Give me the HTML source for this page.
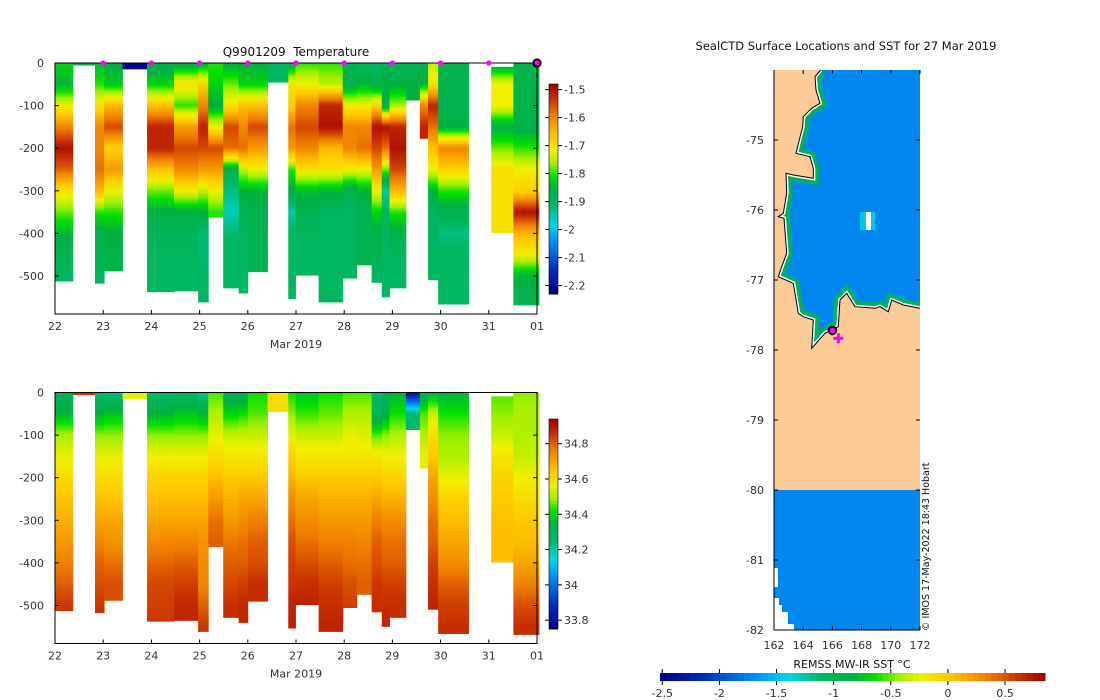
<!DOCTYPE html>
<html><head><meta charset="utf-8"><style>
html,body{margin:0;padding:0;background:#fff;}
svg{display:block;font-family:"DejaVu Sans","Liberation Sans",sans-serif;}
</style></head><body>
<svg id="root" width="1100" height="700" viewBox="0 0 1100 700" xmlns="http://www.w3.org/2000/svg">
<g id="tplot"></g>
<g id="splot"></g>
<g id="map"></g>
</svg>
<script>
// ---------- data ----------
const profStart=[22.0,22.37,22.83,23.02,23.4,23.91,24.47,24.97,25.18,25.49,25.81,26.0,26.41,26.84,26.99,27.47,27.97,28.26,28.57,28.78,28.94,29.28,29.57,29.74,29.95,31.05,31.51];
const profEnd=[22.37,22.83,23.02,23.4,23.91,24.47,24.97,25.18,25.49,25.81,26.0,26.41,26.84,26.99,27.47,27.97,28.26,28.57,28.78,28.94,29.28,29.57,29.74,29.95,30.58,31.51,32.04];
const profTop=[0,0,0,0,0,0,0,0,0,0,0,0,0,0,0,0,0,0,0,0,0,0,0,0,0,9,0];
const profDepth=[512,5,517,488,14,537,535,561,362,528,540,490,45,553,498,561,505,474,515,549,528,87,177,509,566,398,568];
// temperature at 0,50,100,... m
const tempProfiles=[
[-1.82,-1.85,-1.72,-1.6,-1.5,-1.57,-1.7,-1.78,-1.85,-1.88,-1.9],
[-1.86],
[-1.85,-1.8,-1.7,-1.6,-1.6,-1.58,-1.65,-1.8,-1.87,-1.88,-1.9],
[-1.86,-1.83,-1.65,-1.55,-1.68,-1.62,-1.72,-1.8,-1.86,-1.87],
[-2.22],
[-1.88,-1.82,-1.66,-1.52,-1.52,-1.66,-1.78,-1.86,-1.89,-1.9,-1.9,-1.9],
[-1.88,-1.7,-1.8,-1.62,-1.55,-1.6,-1.72,-1.86,-1.89,-1.9,-1.9,-1.9],
[-1.86,-1.68,-1.6,-1.52,-1.55,-1.62,-1.75,-1.85,-1.92,-1.92,-1.9,-1.9],
[-1.8,-1.82,-1.86,-1.72,-1.55,-1.62,-1.72,-1.8],
[-1.86,-1.78,-1.7,-1.55,-1.58,-1.88,-1.93,-1.96,-1.92,-1.9,-1.9],
[-1.86,-1.82,-1.66,-1.6,-1.58,-1.75,-1.85,-1.88,-1.9,-1.9,-1.9],
[-1.86,-1.82,-1.66,-1.55,-1.62,-1.72,-1.85,-1.87,-1.88,-1.88],
[-1.9,-1.9],
[-1.88,-1.7,-1.68,-1.58,-1.62,-1.8,-1.86,-1.95,-1.9,-1.9,-1.9,-1.9],
[-1.8,-1.72,-1.6,-1.55,-1.6,-1.7,-1.84,-1.88,-1.9,-1.9,-1.9],
[-1.8,-1.75,-1.52,-1.5,-1.65,-1.7,-1.85,-1.9,-1.9,-1.9,-1.9,-1.9],
[-1.87,-1.87,-1.72,-1.6,-1.6,-1.72,-1.88,-1.9,-1.9,-1.9,-1.9],
[-1.9,-1.85,-1.72,-1.6,-1.58,-1.72,-1.85,-1.88,-1.88,-1.88],
[-1.9,-1.88,-1.68,-1.5,-1.55,-1.62,-1.72,-1.82,-1.87,-1.88,-1.9],
[-1.88,-1.85,-1.88,-1.5,-1.58,-1.78,-1.95,-1.9,-1.9,-1.9,-1.9,-1.9],
[-1.88,-1.86,-1.76,-1.52,-1.5,-1.55,-1.65,-1.8,-1.87,-1.9,-1.9],
[-1.88,-1.86],
[-1.88,-1.85,-1.6,-1.52],
[-1.75,-1.7,-1.52,-1.58,-1.66,-1.72,-1.85,-1.9,-1.9,-1.9,-1.9],
[-1.88,-1.88,-1.88,-1.86,-1.6,-1.68,-1.8,-1.88,-1.93,-1.9,-1.9,-1.9],
[-1.88,-1.72,-1.72,-1.86,-1.78,-1.7,-1.7,-1.7,-1.7],
[-1.87,-1.87,-1.87,-1.87,-1.8,-1.72,-1.68,-1.5,-1.65,-1.72,-1.85,-1.88]];
const salProfiles=[
[34.3,34.35,34.5,34.55,34.6,34.65,34.68,34.72,34.76,34.8,34.85],
[34.85],
[34.25,34.35,34.48,34.55,34.6,34.66,34.7,34.75,34.8,34.82,34.85],
[34.22,34.38,34.48,34.55,34.6,34.65,34.7,34.73,34.78,34.82],
[34.55],
[34.25,34.35,34.48,34.56,34.62,34.66,34.7,34.75,34.79,34.83,34.84,34.85],
[34.25,34.38,34.48,34.56,34.62,34.66,34.7,34.75,34.8,34.84,34.87,34.88],
[34.2,34.35,34.48,34.56,34.62,34.66,34.7,34.73,34.74,34.75,34.8,34.85],
[34.45,34.5,34.55,34.6,34.66,34.72,34.78,34.8],
[34.3,34.4,34.52,34.58,34.64,34.68,34.72,34.77,34.8,34.83,34.86],
[34.3,34.42,34.52,34.58,34.64,34.7,34.74,34.78,34.8,34.84,34.87],
[34.42,34.45,34.52,34.58,34.64,34.7,34.76,34.8,34.82,34.86],
[34.6,34.6],
[34.42,34.48,34.55,34.62,34.68,34.74,34.78,34.82,34.84,34.85,34.88,34.88],
[34.38,34.44,34.52,34.58,34.64,34.7,34.74,34.78,34.82,34.86,34.88],
[34.42,34.46,34.52,34.58,34.64,34.68,34.72,34.76,34.8,34.84,34.86,34.88],
[34.45,34.5,34.55,34.58,34.64,34.68,34.72,34.76,34.78,34.82,34.84],
[34.45,34.5,34.54,34.58,34.64,34.68,34.72,34.75,34.78,34.8],
[34.25,34.28,34.45,34.58,34.64,34.7,34.76,34.8,34.82,34.85,34.86],
[34.3,34.32,34.48,34.56,34.62,34.68,34.74,34.78,34.8,34.84,34.86,34.88],
[34.35,34.42,34.5,34.56,34.62,34.68,34.74,34.78,34.8,34.84,34.86],
[33.8,34.25],
[34.3,34.45,34.5,34.55],
[34.35,34.52,34.6,34.64,34.7,34.74,34.78,34.8,34.84,34.86,34.88],
[34.35,34.42,34.48,34.5,34.55,34.62,34.66,34.7,34.74,34.8,34.84,34.86],
[34.45,34.48,34.52,34.58,34.62,34.64,34.65,34.66,34.66],
[34.48,34.5,34.5,34.52,34.56,34.6,34.64,34.66,34.7,34.76,34.82,34.86]];
const markerDays=[23,24,25,26,27,28,29,30,31];
const lastProfileDay=[32];
const xTickLabels=["22","23","24","25","26","27","28","29","30","31","01"];
const depthTicks=[0,-100,-200,-300,-400,-500];
const tempCbTicks=[-1.5,-1.6,-1.7,-1.8,-1.9,-2,-2.1,-2.2];
const salCbTicks=[34.8,34.6,34.4,34.2,34,33.8];
const lonTicks=[162,164,166,168,170,172];
const latTicks=[-75,-76,-77,-78,-79,-80,-81,-82];
const sstTicks=[-2.5,-2,-1.5,-1,-0.5,0,0.5];
const ctdLon=[166.0];
const ctdLat=[-77.72];

// ---------- helpers ----------
const NS="http://www.w3.org/2000/svg";
function mk(tag,attrs,parent){const e=document.createElementNS(NS,tag);for(const k in attrs)e.setAttribute(k,attrs[k]);parent.appendChild(e);return e;}
const stops=[[0,[0,0,128]],[0.12,[0,48,192]],[0.25,[0,144,255]],[0.33,[0,216,232]],[0.42,[0,184,104]],[0.5,[0,176,64]],[0.56,[0,224,0]],[0.62,[160,240,0]],[0.68,[240,240,0]],[0.75,[255,200,0]],[0.85,[240,128,0]],[0.93,[200,48,0]],[1,[160,0,0]]];
function cmap(t){t=Math.max(0,Math.min(1,t));for(let i=1;i<stops.length;i++){if(t<=stops[i][0]){const a=stops[i-1],b=stops[i],f=(t-a[0])/(b[0]-a[0]);const c=a[1].map((v,j)=>Math.round(v+(b[1][j]-v)*f));return `rgb(${c[0]},${c[1]},${c[2]})`;}}return 'rgb(160,0,0)';}
function interp(arr,d){const i=d/50;const i0=Math.floor(i);if(i0>=arr.length-1)return arr[arr.length-1];const f=i-i0;return arr[i0]+(arr[i0+1]-arr[i0])*f;}

function section(g,y0,profiles,vmin,vmax,cbTop,cbBot,cbTicks,cbLabels,cbX,title,markers){
  const xL=55,xR=537,yScale=0.426,yBot=y0+251;
  const xs=d=>xL+(d-22)*(xR-xL)/10;
  const ys=z=>y0+z*yScale;
  for(let p=0;p<profStart.length;p++){
    const arr=profiles[p];
    const x1=xs(profStart[p]),x2=xs(profEnd[p]);
    for(let z=profTop[p];z<profDepth[p];z+=5){
      const z2=Math.min(z+5,profDepth[p]);
      const r=mk('rect',{x:x1.toFixed(2),y:ys(z).toFixed(2),width:(x2-x1+0.4).toFixed(2),height:(ys(z2)-ys(z)+0.4).toFixed(2),fill:cmap((interp(arr,z+2.5)-vmin)/(vmax-vmin))},g);
      
      
    }
  }
  mk('rect',{x:xL,y:y0,width:xR-xL,height:yBot-y0,fill:'none',stroke:'#000','stroke-width':1,},g);
  depthTicks.forEach(v=>{const y=ys(-v);mk('line',{x1:xL,x2:xL+4,y1:y,y2:y,stroke:'#000'},g);mk('line',{x1:xR,x2:xR-4,y1:y,y2:y,stroke:'#000'},g);
    const t=mk('text',{x:xL-11,y:y+4,'text-anchor':'end','font-size':11,fill:'#333',},g);t.textContent=String(v);});
  xTickLabels.forEach((lab,i)=>{const x=xs(22+i);mk('line',{x1:x,x2:x,y1:yBot,y2:yBot-4,stroke:'#000'},g);
    const t=mk('text',{x:x,y:yBot+16,'text-anchor':'middle','font-size':11,fill:'#333',},g);t.textContent=lab;});
  const xl=mk('text',{x:296,y:yBot+34,'text-anchor':'middle','font-size':11,fill:'#333',},g);xl.textContent='Mar 2019';
  if(title){const tt=mk('text',{x:296,y:y0-7,'text-anchor':'middle','font-size':12,fill:'#111',style:'white-space:pre',},g);tt.textContent=title;}
  if(markers){
    markerDays.forEach(d=>{const c=mk('circle',{cx:xs(d),cy:y0,r:2.6,fill:'#ff00ff'},g);});
    lastProfileDay.forEach(d=>{const c=mk('circle',{cx:xs(d),cy:y0,r:3.6,fill:'#ff00ff',stroke:'#000','stroke-width':2},g);});
  }
  const cb=mk('g',{},g);
  const N=64;
  for(let i=0;i<N;i++){const y=cbTop+(cbBot-cbTop)*i/N;mk('rect',{x:cbX,y:y.toFixed(2),width:9,height:((cbBot-cbTop)/N+0.5).toFixed(2),fill:cmap(1-(i+0.5)/N)},cb);}
  mk('rect',{x:cbX,y:cbTop,width:9,height:cbBot-cbTop,fill:'none',stroke:'#000','stroke-width':0.6},cb);
  cbTicks.forEach((v,i)=>{const y=cbTop+(vmax-v)/(vmax-vmin)*(cbBot-cbTop);
    mk('line',{x1:cbX-4,x2:cbX,y1:y,y2:y,stroke:'#000'},cb);mk('line',{x1:cbX+9,x2:cbX+13,y1:y,y2:y,stroke:'#000'},cb);
    const t=mk('text',{x:cbX+15,y:y+4,'font-size':11,fill:'#333',},cb);t.textContent=cbLabels[i];});
}
section(document.getElementById('tplot'),63,tempProfiles,-2.23,-1.48,84,294,tempCbTicks,tempCbTicks.map(String),549,'Q9901209  Temperature',true);
section(document.getElementById('splot'),392.5,salProfiles,33.75,34.94,419,629,salCbTicks,salCbTicks.map(String),549,null,false);

// ---------- map ----------
const m=document.getElementById('map');
const mxL=774,mxR=920,myT=70,myB=630;
const lonX=l=>mxL+(l-162)*(mxR-mxL)/10;
const latY=l=>myT+(-74-l)*(myB-myT)/8;
mk('rect',{x:mxL,y:myT,width:mxR-mxL,height:myB-myT,fill:'#fdcb98',},m);
const coast="820.7,70 815,76.7 816,90 820,103.3 811.7,108.3 803.3,116.7 802.7,126.7 799.3,140 796,153.3 810,156.7 813.3,168.3 813.3,178.3 793.3,175 786,173.3 786.7,193.3 783.3,213.3 778.3,216.7 784,218.3 786.7,253.3 781.7,266.7 778.3,276.7 793.3,283.3 795,293.3 798.3,313.3 803.3,316.7 813.3,320 811.7,348.3 825,333.3 838.3,326.7 840,300 846.7,293.3 855,306.7 875,308.3 880,306.7 888.3,311.7 891.7,300 903.3,305 920,308.3";
const defs=mk('defs',{},m);const cp=mk('clipPath',{id:'sea'},defs);mk('polygon',{points:coast+" 920,70 837.3,70"},cp);
mk('polygon',{points:coast+" 920,70 837.3,70",fill:'#0088f0',},m);
const cg=mk('g',{'clip-path':'url(#sea)'},m);
mk('polyline',{points:coast,fill:'none',stroke:'#00b060','stroke-width':12,'stroke-linejoin':'miter'},cg);
mk('polyline',{points:coast,fill:'none',stroke:'#fff','stroke-width':4}, cg);
mk('polyline',{points:coast,fill:'none',stroke:'#000','stroke-width':1,},m);
mk('rect',{x:860,y:212,width:15,height:18,fill:'#00c8e8',},m);
mk('rect',{x:866,y:212,width:5,height:18,fill:'#fff'},m);
mk('polygon',{points:"774,490 920,490 920,630 794,630 794,624 788,624 788,612 782,612 782,605 779,605 779,598 774,598 774,587 778,587 778,568 774,568",fill:'#0088f0',},m);
mk('polygon',{points:"774,568 778,568 778,587 774,587",fill:'#fff'},m);
mk('polygon',{points:"774,598 779,598 779,605 782,605 782,612 788,612 788,624 794,624 794,630 774,630",fill:'#fff'},m);
ctdLon.forEach((lo,i)=>{
  const p=mk('path',{d:`M${lonX(lo)+1} ${latY(ctdLat[i])+8} h10 M${lonX(lo)+6} ${latY(ctdLat[i])+3} v10`,stroke:'#ff00ff','stroke-width':3},m);
  
  
  const c=mk('circle',{cx:lonX(lo),cy:latY(ctdLat[i]),r:3.8,fill:'#ff00ff',stroke:'#000','stroke-width':2},m);
  
  
});
mk('line',{x1:mxL,x2:mxL,y1:myT,y2:myB,stroke:'#000'},m);mk('line',{x1:mxL,x2:mxR,y1:myB,y2:myB,stroke:'#000'},m);
latTicks.forEach(l=>{const y=latY(l);mk('line',{x1:mxL,x2:mxL+4,y1:y,y2:y,stroke:'#000'},m);mk('line',{x1:mxR,x2:mxR-4,y1:y,y2:y,stroke:'#000'},m);
  const t=mk('text',{x:mxL-10,y:y+4,'text-anchor':'end','font-size':11,fill:'#333',},m);t.textContent=String(l);});
lonTicks.forEach(l=>{const x=lonX(l);mk('line',{x1:x,x2:x,y1:myB,y2:myB-4,stroke:'#000'},m);mk('line',{x1:x,x2:x,y1:myT,y2:myT+4,stroke:'#000'},m);
  const t=mk('text',{x:x,y:myB+19,'text-anchor':'middle','font-size':11,fill:'#333',},m);t.textContent=String(l);});
const mt=mk('text',{x:846,y:50,'text-anchor':'middle','font-size':11.5,fill:'#111',},m);mt.textContent='SealCTD Surface Locations and SST for 27 Mar 2019';
const cr=mk('text',{x:0,y:0,'font-size':9.5,fill:'#111',transform:'translate(929,631) rotate(-90)',},m);cr.textContent='© IMOS 17-May-2022 18:43 Hobart';
const sb=mk('g',{},m);
const sMin=-2.52,sMax=0.85,sx0=660,sx1=1045;
for(let i=0;i<64;i++){const x=sx0+(sx1-sx0)*i/64;mk('rect',{x:x.toFixed(2),y:673,width:((sx1-sx0)/64+0.5).toFixed(2),height:8,fill:cmap((i+0.5)/64)},sb);}
sstTicks.forEach(v=>{const x=sx0+(v-sMin)/(sMax-sMin)*(sx1-sx0);mk('line',{x1:x,x2:x,y1:669,y2:673,stroke:'#000'},sb);mk('line',{x1:x,x2:x,y1:681,y2:685,stroke:'#000'},sb);
  const t=mk('text',{x:x,y:697,'text-anchor':'middle','font-size':11,fill:'#333',},sb);t.textContent=String(v);});
const st=mk('text',{x:852,y:668,'text-anchor':'middle','font-size':11,fill:'#111',},m);st.textContent='REMSS MW-IR SST °C';
</script>
</body></html>
